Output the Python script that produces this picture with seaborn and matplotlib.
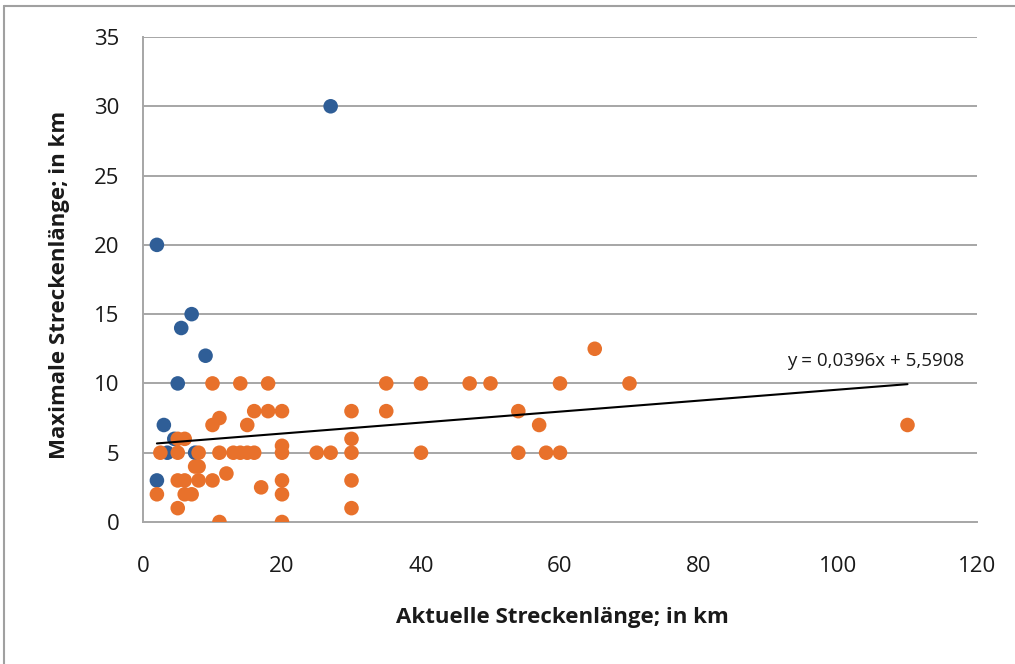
import numpy as np
import pandas as pd
import matplotlib
matplotlib.use("Agg")
import matplotlib.pyplot as plt
import seaborn as sns
from matplotlib.lines import Line2D

# --- data ---
blue_x = [2, 27, 7, 5.5, 9, 5, 3, 4.5, 3.5, 7.5, 2]
blue_y = [20, 30, 15, 14, 12, 10, 7, 6, 5, 5, 3]

orange_x = [2, 2.5, 5, 6, 5, 5, 6, 5, 6, 7, 7.5, 8, 8, 8, 10, 10, 11, 10, 11, 11,
            12, 13, 14, 15, 16, 14, 15, 16, 17, 18, 18, 20, 20, 20, 20, 20, 20,
            25, 27, 30, 30, 30, 30, 30, 35, 35, 40, 40, 47, 50, 54, 54, 57, 58,
            60, 60, 65, 70, 110]
orange_y = [2, 5, 6, 6, 5, 3, 3, 1, 2, 2, 4, 4, 5, 3, 3, 7, 7.5, 10, 5, 0,
            3.5, 5, 5, 5, 5, 10, 7, 8, 2.5, 8, 10, 8, 5.5, 5, 3, 2, 0,
            5, 5, 8, 6, 5, 3, 1, 10, 8, 10, 5, 10, 10, 8, 5, 7, 5,
            10, 5, 12.5, 10, 7]

trend_slope = 0.0396
trend_intercept = 5.5908
trend_label = "y = 0,0396x + 5,5908"

x_label = "Aktuelle Streckenlänge; in km"
y_label = "Maximale Streckenlänge; in km"
x_ticks = [0, 20, 40, 60, 80, 100, 120]
y_ticks = [0, 5, 10, 15, 20, 25, 30, 35]

BLUE = "#2F5E97"
ORANGE = "#E8712B"
GRID = "#A6A6A6"
TXT = "#1a1a1a"

df = pd.DataFrame({
    "x": blue_x + orange_x,
    "y": blue_y + orange_y,
    "series": ["blue"] * len(blue_x) + ["orange"] * len(orange_x),
})

sns.set_style("white")
plt.rcParams["font.family"] = ["Open Sans", "DejaVu Sans"]

fig = plt.figure(figsize=(10.15, 6.64), dpi=100)
ax = fig.add_axes([143 / 1015, 142 / 664, (977 - 143) / 1015, (522 - 37) / 664])

for v in y_ticks[1:]:
    ax.axhline(v, color=GRID, lw=1.4, zorder=0)

sns.scatterplot(data=df, x="x", y="y", hue="series",
                palette={"blue": BLUE, "orange": ORANGE},
                s=110, edgecolor="none", linewidth=0, legend=False, ax=ax, zorder=3)

xmin, xmax = min(orange_x), max(orange_x)
ax.plot([xmin, xmax], [trend_slope * xmin + trend_intercept, trend_slope * xmax + trend_intercept],
        color="black", lw=1.5, zorder=4)
ax.text(118.2, 11.0, trend_label, ha="right", va="bottom", fontsize=13.5, color=TXT)

ax.set_xlim(0, 120)
ax.set_ylim(0, 35)
ax.set_xticks(x_ticks)
ax.set_yticks(y_ticks)
ax.tick_params(axis="both", labelsize=16, colors=GRID, labelcolor=TXT,
               length=5.8, width=1.4, direction="out")
ax.tick_params(axis="x", pad=19)
ax.tick_params(axis="y", pad=11)
for s in ["top", "right"]:
    ax.spines[s].set_visible(False)
for s in ["left", "bottom"]:
    ax.spines[s].set_color(GRID)
    ax.spines[s].set_linewidth(1.4)

ax.set_xlabel(x_label, fontsize=16, fontweight="bold", color=TXT)
ax.set_ylabel(y_label, fontsize=16, fontweight="bold", color=TXT)
ax.xaxis.set_label_coords((562 - 143) / (977 - 143), -(617 - 522) / (522 - 37))
ax.yaxis.set_label_coords(-(143 - 60) / (977 - 143), (522 - 285) / (522 - 37))
ax.xaxis.label.set_va("center")
ax.yaxis.label.set_va("center")

# outer chart frame
fig.add_artist(Line2D([4 / 1015, 4 / 1015], [0, 1 - 6 / 664], color="#A0A0A0", lw=1.5,
                      transform=fig.transFigure))
fig.add_artist(Line2D([4 / 1015, 1], [1 - 6 / 664, 1 - 6 / 664], color="#A0A0A0", lw=1.5,
                      transform=fig.transFigure))

fig.savefig("out.png", dpi=100)
